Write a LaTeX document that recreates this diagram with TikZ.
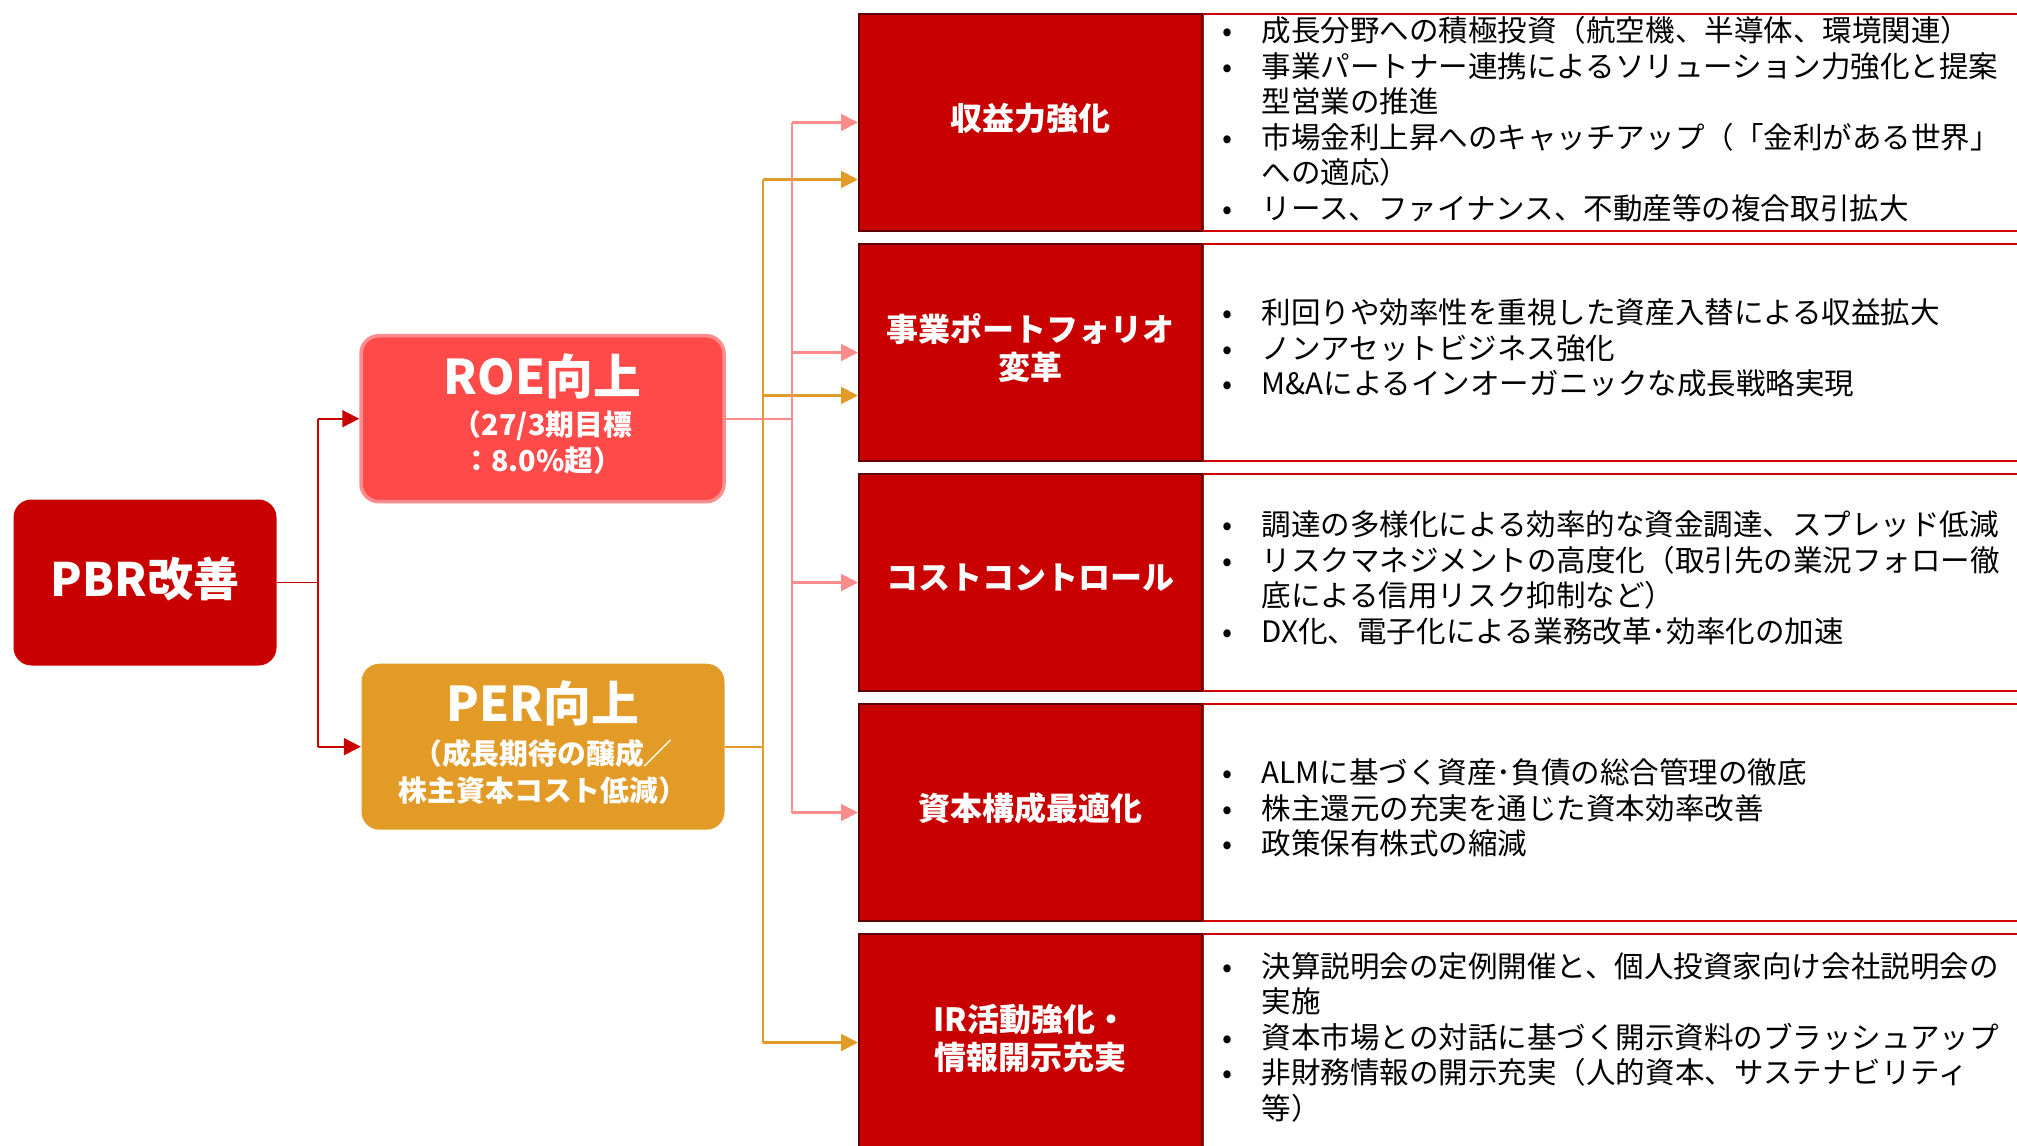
\documentclass[tikz,border=0pt]{standalone}
\usepackage{fontspec}
\setmainfont{Noto Sans CJK JP}
\usepackage{xcolor}
\usepackage{tikz}
\usetikzlibrary{positioning,arrows.meta,calc}

\definecolor{pbrred}{HTML}{C80000}
\definecolor{roered}{HTML}{FF4A4A}
\definecolor{roeedge}{HTML}{FF8C8C}
\definecolor{perorange}{HTML}{E29B27}
\definecolor{darkedge}{HTML}{5C0000}
\definecolor{panelred}{HTML}{D00000}
\definecolor{roepink}{HTML}{FF8C8C}

\newcommand{\itm}[1]{\makebox[4.9mm][l]{\hspace*{1.5mm}\makebox[0pt][c]{•}}#1}
\newcommand{\cnt}[1]{\hspace*{4.9mm}#1}
\newcommand{\lift}{\rule[-1.2mm]{0pt}{0pt}}

\begin{document}
\begin{tikzpicture}[x=0.1mm, y=-0.1mm,
  lever/.style={draw=darkedge, line width=0.6pt, fill=pbrred, text=white, minimum width=34.3mm, minimum height=21.7mm, inner sep=0pt, align=center, font=\fontsize{9.1}{10.8}\selectfont\bfseries, execute at end node=\lift},
  panel/.style={draw=panelred, line width=0.65pt, minimum width=85mm, minimum height=21.7mm, anchor=west, inner sep=0pt},
  notes/.style={anchor=west, align=left, inner sep=0pt, font=\fontsize{8.4}{10.1}\selectfont},
  goal/.style={text=white, rounded corners=1.8mm, minimum width=36.3mm, minimum height=16.6mm, inner sep=0pt, align=center, font=\fontsize{8.2}{10.5}\selectfont\bfseries, execute at end node=\lift},
  tip/.style={-{Triangle[length=4.8pt,width=4.8pt]}}]
  \useasboundingbox (0,0) rectangle (2017,1145);
  \clip (0,0) rectangle (2017,1145);

  % Left: target and two levers
  \node[goal, fill=pbrred, minimum width=26.3mm, font=\fontsize{13.1}{15}\selectfont\bfseries] (pbr) at (145, 582.5) {PBR改善};
  \node[goal, fill=roered, draw=roeedge, line width=1pt] (roe) at (542.5, 418.7) {{\fontsize{13.6}{15}\selectfont ROE向上}\\[1.1pt]（27/3期目標\\：8.0\%超）};
  \node[goal, fill=perorange] (per) at (543, 746.7) {{\fontsize{13.6}{15}\selectfont PER向上}\\[1.7pt]（成長期待の醸成／\\株主資本コスト低減）};

  % Right: text panels behind the measure boxes
  \node[panel] (earnp) at (1202, 122.5) {};
  \node[panel] (portp) at (1202, 352.5) {};
  \node[panel] (costp) at (1202, 582.5) {};
  \node[panel] (capp) at (1202, 812.5) {};
  \node[panel] (irp) at (1202, 1042.5) {};

  \node[lever] (earn) at (1030.5, 122.5) {収益力強化};
  \node[lever] (port) at (1030.5, 352.5) {事業ポートフォリオ\\変革};
  \node[lever] (cost) at (1030.5, 582.5) {コストコントロール};
  \node[lever] (cap) at (1030.5, 812.5) {資本構成最適化};
  \node[lever] (ir) at (1030.5, 1042.5) {IR活動強化・\\情報開示充実};

  \node[notes] (earnt) at (1212, 119) {\itm{成長分野への積極投資（航空機、半導体、環境関連）}\\
    \itm{事業パートナー連携によるソリューション力強化と提案}\\
    \cnt{型営業の推進}\\
    \itm{市場金利上昇へのキャッチアップ（「金利がある世界」}\\
    \cnt{への適応）}\\
    \itm{リース、ファイナンス、不動産等の複合取引拡大}};
  \node[notes] (portt) at (1212, 348) {\itm{利回りや効率性を重視した資産入替による収益拡大}\\
    \itm{ノンアセットビジネス強化}\\
    \itm{M\&Aによるインオーガニックな成長戦略実現}};
  \node[notes] (costt) at (1212, 578) {\itm{調達の多様化による効率的な資金調達、スプレッド低減}\\
    \itm{リスクマネジメントの高度化（取引先の業況フォロー徹}\\
    \cnt{底による信用リスク抑制など）}\\
    \itm{DX化、電子化による業務改革･効率化の加速}};
  \node[notes] (capt) at (1212, 808) {\itm{ALMに基づく資産･負債の総合管理の徹底}\\
    \itm{株主還元の充実を通じた資本効率改善}\\
    \itm{政策保有株式の縮減}};
  \node[notes] (irt) at (1212, 1037) {\itm{決算説明会の定例開催と、個人投資家向け会社説明会の}\\
    \cnt{実施}\\
    \itm{資本市場との対話に基づく開示資料のブラッシュアップ}\\
    \itm{非財務情報の開示充実（人的資本、サステナビリティ}\\
    \cnt{等）}};

  % PBR -> ROE / PER
  \coordinate (pbrbus) at (318, 0);
  \draw[pbrred, line width=0.5pt] (pbr.east) -- (pbrbus |- pbr.east);
  \draw[pbrred, line width=0.5pt] (pbrbus |- roe.west) -- (pbrbus |- per.west);
  \draw[pbrred, line width=0.5pt, tip] (pbrbus |- roe.west) -- (roe.west);
  \draw[pbrred, line width=0.5pt, tip] (pbrbus |- per.west) -- (per.west);

  % PER -> measures
  \coordinate (perbus) at (763, 0);
  \coordinate (earnin) at ($(earn.west)+(0,57)$);
  \coordinate (portin) at ($(port.west)+(0,43)$);
  \draw[perorange, line width=0.6pt] (per.east) -- (perbus |- per.east);
  \draw[perorange, line width=0.6pt] (perbus |- earnin) -- (perbus |- ir.west);
  \draw[perorange, line width=0.6pt, tip] (perbus |- earnin) -- (earnin);
  \draw[perorange, line width=0.6pt, tip] (perbus |- portin) -- (portin);
  \draw[perorange, line width=0.6pt, tip] (perbus |- ir.west) -- (ir.west);

  % ROE -> measures
  \coordinate (roebus) at (792, 0);
  \draw[roepink, line width=0.6pt] (roe.east) -- (roebus |- roe.east);
  \draw[roepink, line width=0.6pt] (roebus |- earn.west) -- (roebus |- cap.west);
  \draw[roepink, line width=0.6pt, tip] (roebus |- earn.west) -- (earn.west);
  \draw[roepink, line width=0.6pt, tip] (roebus |- port.west) -- (port.west);
  \draw[roepink, line width=0.6pt, tip] (roebus |- cost.west) -- (cost.west);
  \draw[roepink, line width=0.6pt, tip] (roebus |- cap.west) -- (cap.west);

\end{tikzpicture}
\end{document}
